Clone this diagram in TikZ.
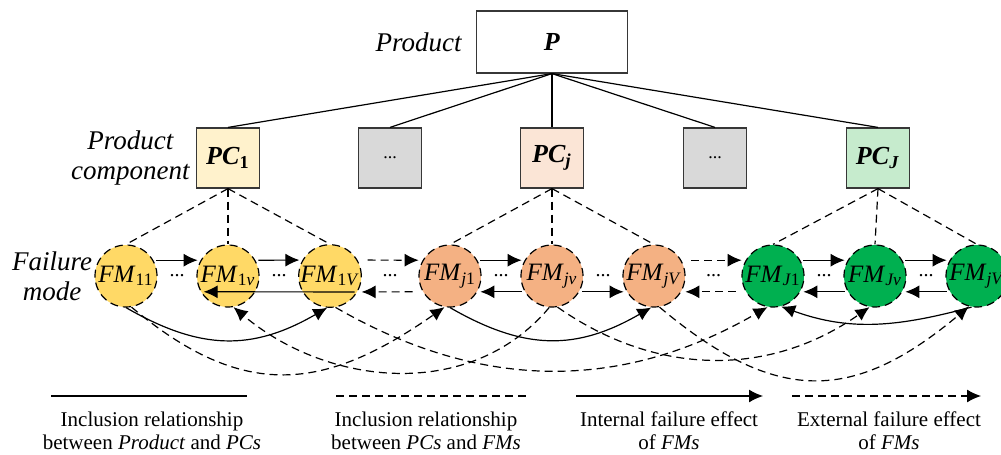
\documentclass[tikz,border=0pt]{standalone}
\usepackage{fontspec}
\setmainfont{Liberation Serif}
\usetikzlibrary{arrows.meta}
\usetikzlibrary{positioning,calc}

\definecolor{pcyellow}{RGB}{255,242,204}
\definecolor{pcgray}{RGB}{217,217,217}
\definecolor{pcorange}{RGB}{251,229,214}
\definecolor{pcgreen}{RGB}{198,235,205}
\definecolor{fmyellow}{RGB}{255,217,102}
\definecolor{fmorange}{RGB}{244,177,131}
\definecolor{fmgreen}{RGB}{0,176,80}
\definecolor{boxline}{RGB}{55,55,55}

\newcommand{\fmidx}[1]{\textsubscript{#1}}

\tikzstyle{link} = [draw, line width=0.6pt]
\tikzstyle{dlink} = [draw, line width=0.6pt, dash pattern=on 4pt off 2.5pt]
\tikzstyle{effect} = [link, -{Latex[length=7pt,width=6.5pt]}]
\tikzstyle{xeffect} = [dlink, -{Latex[length=7pt,width=6.5pt]}]
\tikzstyle{hz} = [shorten >=1.5pt, shorten <=1.5pt]
\tikzstyle{every box} = [draw=boxline, line width=0.6pt, inner sep=0pt]
\tikzstyle{prod} = [rectangle, fill=white, minimum width=75.5pt, minimum height=31pt, font=\fontsize{13}{15}\selectfont\bfseries, every box]
\tikzstyle{comp} = [rectangle, minimum width=31.5pt, minimum height=30pt, font=\fontsize{13}{15}\selectfont\bfseries, every box]
\tikzstyle{fmode} = [circle, minimum size=31pt, inner sep=0pt, dlink, font=\fontsize{12.5}{14}\selectfont]
\tikzstyle{lbl} = [font=\fontsize{13.5}{15}\selectfont\itshape, align=center, inner sep=2pt]
\tikzstyle{dots} = [font=\fontsize{10}{12}\selectfont, inner sep=0pt]
\tikzstyle{legend} = [font=\fontsize{10.5}{11.5}\selectfont, align=center]

\begin{document}
\begin{tikzpicture} [node distance=58pt]

\useasboundingbox (0,0) rectangle (500.5pt,-227.5pt);

% Product

\node[prod] (P) at (276pt,-21pt) {\textit{P}};

\node[lbl] (prodlbl) [left=5pt of P] {Product};

% Product components

\node[comp, fill=pcyellow] (PC1) [below of=P, xshift=-162pt] {\textit{PC}\fmidx{1}};

\node[comp, fill=pcgray] (PCa) [below of=P, xshift=-81pt] {\mdseries\fontsize{9}{10}\selectfont ...};

\node[comp, fill=pcorange] (PCj) [below of=P] {\textit{PC}\fmidx{\textit{j}}};

\node[comp, fill=pcgray] (PCb) [below of=P, xshift=81.5pt] {\mdseries\fontsize{9}{10}\selectfont ...};

\node[comp, fill=pcgreen] (PCJ) [below of=P, xshift=163pt] {\textit{PC}\fmidx{\textit{J}}};

\node[lbl] (complbl) [left=1pt of PC1] {Product\\component};

\foreach \c in {PC1,PCa,PCj,PCb,PCJ}
  \draw[link] (P.south) -- (\c.north);

% Failure modes

\node[fmode, fill=fmyellow] (FM1v) [node distance=59pt, below of=PC1] {\textit{FM}\fmidx{1\textit{v}}};
\node[fmode, fill=fmyellow] (FM11) [node distance=51pt, left of=FM1v] {\textit{FM}\fmidx{11}};
\node[fmode, fill=fmyellow] (FM1V) [node distance=51pt, right of=FM1v] {\textit{FM}\fmidx{1\textit{V}}};

\node[fmode, fill=fmorange] (FMjv) [node distance=59pt, below of=PCj] {\textit{FM}\fmidx{\textit{jv}}};
\node[fmode, fill=fmorange] (FMj1) [node distance=51pt, left of=FMjv] {\textit{FM}\fmidx{\textit{j}1}};
\node[fmode, fill=fmorange] (FMjV) [node distance=51pt, right of=FMjv] {\textit{FM}\fmidx{\textit{jV}}};

\node[fmode, fill=fmgreen] (FMJv) [node distance=59pt, below of=PCJ, xshift=-1.5pt] {\textit{FM}\fmidx{\textit{Jv}}};
\node[fmode, fill=fmgreen] (FMJ1) [node distance=51pt, left of=FMJv] {\textit{FM}\fmidx{\textit{J}1}};
\node[fmode, fill=fmgreen] (FMJV) [node distance=51pt, right of=FMJv] {\textit{FM}\fmidx{\textit{jV}}};

\node[lbl] (faillbl) [left=-1pt of FM11] {Failure\\mode};

\foreach \c/\f in {PC1/FM11,PC1/FM1v,PC1/FM1V,PCj/FMj1,PCj/FMjv,PCj/FMjV,PCJ/FMJ1,PCJ/FMJv,PCJ/FMJV}
  \draw[dlink] (\c.south) -- (\f.north);

\foreach \a/\b in {FM11/FM1v,FM1v/FM1V,FM1V/FMj1,FMj1/FMjv,FMjv/FMjV,FMjV/FMJ1,FMJ1/FMJv,FMJv/FMJV}
  \node[dots] (dots\a) at ($(\a)!0.5!(\b)$) {...};

% Internal effects

\draw[effect, hz] (FM11.30) -- (FM1v.150);
\draw[effect, hz] (FM1v.30) -- (FM1V.150);
\draw[effect, hz] (FM1V.-30) -- (FM1v.-150);
\draw[effect, hz] (FMj1.30) -- (FMjv.150);
\draw[effect, hz] (FMjv.-150) -- (FMj1.-30);
\draw[effect, hz] (FMjv.-30) -- (FMjV.-150);
\draw[effect, hz] (FMJ1.30) -- (FMJv.150);
\draw[effect, hz] (FMJv.30) -- (FMJV.150);
\draw[effect, hz] (FMJv.-150) -- (FMJ1.-30);
\draw[effect, hz] (FMJV.-150) -- (FMJv.-30);

\draw[effect] (FM11.south) to[out=-30, in=-150, looseness=1.1] (FM1V.-95);
\draw[effect] (FMj1.south) to[out=-30, in=-150, looseness=1.1] (FMjV.-95);
\draw[effect] (FMJV.-100) to[out=-165, in=-20] (FMJ1.-75);

% External effects

\draw[xeffect, shorten <=5pt, shorten >=2pt] (FM1V.30) -- (FMj1.150);
\draw[xeffect, shorten <=5pt, shorten >=2pt] (FMj1.-150) -- (FM1V.-30);
\draw[xeffect, shorten <=5pt, shorten >=2pt] (FMjV.30) -- (FMJ1.150);
\draw[xeffect, shorten <=5pt, shorten >=2pt] (FMJ1.-150) -- (FMjV.-30);

\draw[xeffect] (FM11.-80) to[out=-40, in=-145, looseness=1.2] (FMj1.-100);
\draw[xeffect] (FMjv.-95) to[out=-130, in=-40] (FM1v.-80);
\draw[xeffect] (FM1V.-80) to[out=-30, in=-150] (FMJ1.-100);
\draw[xeffect] (FMjv.-80) to[out=-35, in=-145] (FMJv.-100);
\draw[xeffect] (FMjV.-80) to[out=-40, in=-140, looseness=1.25] (FMJV.-105);

% Legend

\coordinate (lg1a) at (25.5pt,-198pt);
\coordinate (lg1b) at (123.5pt,-198pt);
\draw[link] (lg1a) -- (lg1b);
\node[legend] (lg1) at (76pt,-215.5pt) {Inclusion relationship\\between \textit{Product} and \textit{PCs}};

\coordinate (lg2a) at (168pt,-198pt);
\coordinate (lg2b) at (263pt,-198pt);
\draw[dlink] (lg2a) -- (lg2b);
\node[legend] (lg2) at (213pt,-215.5pt) {Inclusion relationship\\between \textit{PCs} and \textit{FMs}};

\coordinate (lg3a) at (288pt,-198pt);
\coordinate (lg3b) at (381.5pt,-198pt);
\draw[effect] (lg3a) -- (lg3b);
\node[legend] (lg3) at (334.5pt,-215.5pt) {Internal failure effect\\of \textit{FMs}};

\coordinate (lg4a) at (396pt,-198pt);
\coordinate (lg4b) at (490.5pt,-198pt);
\draw[xeffect] (lg4a) -- (lg4b);
\node[legend] (lg4) at (444.5pt,-215.5pt) {External failure effect\\of \textit{FMs}};

\end{tikzpicture}
\end{document}
